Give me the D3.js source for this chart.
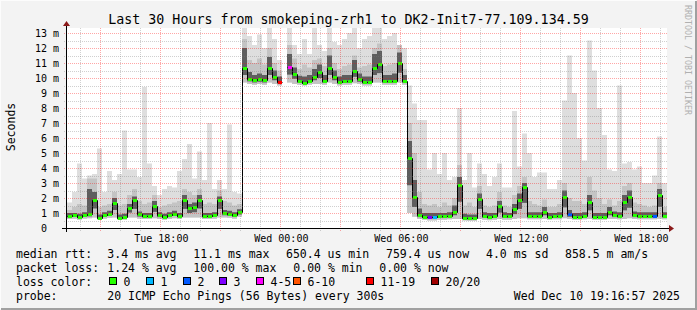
<!DOCTYPE html>
<html><head><meta charset="utf-8">
<script src="https://cdn.jsdelivr.net/npm/d3@7"></script>
<style>
body{margin:0;background:#f3f3f3;overflow:hidden}
svg text{font-family:"DejaVu Sans Mono",monospace;white-space:pre}
</style>
</head><body><svg id="c" width="697" height="310"></svg>
<script>
// ---------------- data ----------------
const titleText = "Last 30 Hours from smokeping-zrh1 to DK2-Init7-77.109.134.59";
const startTime = "2025-12-09T13:16:57Z";
const endTime   = "2025-12-10T19:16:57Z";
const binMinutes = 15;

// median rtt per 15-minute bin (ms); null = no data (100% loss)
const median = [
 0.8,0.85,0.75,0.85,0.9,1.9,0.7,0.85,0.95,1.7,
 0.7,0.75,1.35,1.85,0.9,0.8,0.8,1.5,0.85,0.75,
 0.85,0.95,0.8,1.85,1.3,1.4,1.9,0.8,0.8,0.85,
 1.85,1.0,0.95,0.85,1.05,10.7,9.95,9.85,9.9,9.85,
 10.7,10.1,9.75,null,10.75,10.3,9.8,9.7,9.8,10.1,
 10.4,9.8,10.7,10.1,9.75,9.8,9.8,10.5,9.9,9.75,
 9.75,10.7,10.95,9.8,9.8,9.8,11.0,9.8,4.7,2.05,
 0.85,0.75,0.75,0.75,0.8,0.78,0.82,1.1,2.9,0.7,
 0.65,0.65,1.95,0.8,0.75,0.78,1.45,0.8,0.78,1.25,
 1.9,2.7,0.8,0.8,0.8,1.1,0.75,0.8,0.8,2.1,
 0.9,0.75,0.75,0.8,1.75,0.75,0.75,0.75,1.1,0.85,
 0.8,1.75,2.05,0.85,0.8,0.8,0.8,0.8,2.2,0.8
];
const smokeMin = [
 0.6,0.62,0.55,0.62,0.65,0.7,0.55,0.62,0.68,0.7,
 0.55,0.55,0.7,0.7,0.62,0.6,0.6,0.65,0.6,0.55,
 0.6,0.65,0.6,0.7,0.7,0.7,0.7,0.6,0.6,0.62,
 0.7,0.7,0.68,0.62,0.75,9.7,9.6,9.55,9.6,9.55,
 9.7,9.6,9.5,null,9.7,9.6,9.55,9.5,9.55,9.6,
 9.6,9.55,9.7,9.6,9.5,9.55,9.55,9.65,9.6,9.5,
 9.5,9.7,9.7,9.55,9.55,9.55,9.7,9.55,1.0,0.75,
 0.6,0.55,0.5,0.5,0.55,0.55,0.58,0.6,0.6,0.5,
 0.48,0.48,0.6,0.55,0.52,0.55,0.6,0.55,0.55,0.6,
 0.65,0.65,0.58,0.58,0.58,0.6,0.55,0.58,0.58,0.65,
 0.6,0.55,0.55,0.58,0.6,0.55,0.55,0.55,0.6,0.6,
 0.58,0.6,0.65,0.6,0.58,0.58,0.58,0.58,0.62,0.58
];
const smokeP75 = [
 1.0,1.0,0.95,1.05,2.6,2.4,0.9,1.05,1.15,2.0,
 0.9,0.95,1.6,2.1,1.1,1.0,1.0,1.8,1.05,0.95,
 1.05,1.15,1.0,2.2,1.6,1.7,2.2,1.0,1.0,1.05,
 2.1,1.2,1.15,1.05,1.25,12.0,10.4,10.2,10.3,10.2,
 11.4,10.5,10.1,null,11.6,10.7,10.15,10.1,10.2,10.6,
 10.9,10.2,11.5,10.5,10.1,10.2,10.2,11.2,10.3,10.1,
 10.1,11.6,11.8,10.2,10.2,10.3,11.7,10.2,5.8,3.2,
 1.3,1.0,1.0,1.0,1.0,1.0,1.05,1.5,3.4,0.95,
 0.9,0.9,2.3,1.05,1.0,1.0,1.8,1.05,1.0,1.6,
 2.3,3.0,1.05,1.05,1.05,1.4,1.0,1.0,1.05,2.5,
 1.2,1.0,1.0,1.05,2.2,1.0,1.0,1.0,1.4,1.1,
 1.05,2.2,2.5,1.1,1.05,1.05,1.05,1.05,2.6,1.05
];
const smokeP90 = [
 1.2,1.4,1.6,1.5,3.3,3.3,1.4,1.5,1.6,2.4,
 1.5,1.6,2.2,2.6,1.8,1.6,1.7,2.2,1.4,1.5,
 1.6,1.7,1.8,2.6,2.4,2.2,2.6,1.6,1.7,1.6,
 2.5,1.8,1.7,1.5,1.6,12.6,11.2,11.0,11.3,10.9,
 12.0,11.0,10.5,null,12.2,11.3,10.6,10.9,10.7,11.2,
 11.3,10.8,12.0,11.0,10.6,10.8,10.9,11.5,10.7,10.8,
 10.9,12.0,12.3,10.8,10.9,11.0,12.2,10.6,7.0,5.0,
 2.4,1.6,1.5,1.6,1.4,1.7,1.5,2.0,4.2,1.5,
 1.7,1.4,2.8,1.5,1.4,1.5,2.4,1.5,1.4,2.2,
 2.8,3.4,1.8,1.6,1.5,1.9,1.4,1.4,1.6,3.0,
 2.0,1.8,1.8,1.6,3.4,2.5,2.0,1.6,1.9,1.5,
 1.8,2.8,3.0,1.7,1.6,1.5,1.4,1.5,3.0,1.4
];
const smokeMax = [
 1.7,2.4,4.3,3.3,3.5,3.6,5.3,2.4,3.8,3.2,
 3.6,6.5,3.9,3.9,3.4,9.4,4.3,2.8,2.2,2.6,
 2.8,2.7,3.8,4.6,5.6,3.3,5.1,3.2,7.0,2.6,
 3.2,2.6,6.9,2.4,2.3,13.4,12.8,12.2,12.9,12.0,
 13.4,12.6,11.2,null,13.4,12.2,11.6,12.6,11.6,13.4,
 12.2,11.8,13.4,12.4,12.2,12.6,13.0,13.4,12.0,12.6,
 12.8,13.4,13.4,12.6,12.8,13.0,12.2,12.0,9.5,8.3,
 7.2,7.2,3.9,5.0,3.6,5.0,3.2,3.4,8.0,3.2,
 5.0,2.7,4.3,3.6,2.8,3.4,4.3,2.7,2.7,7.8,
 4.1,6.3,5.0,3.4,3.7,3.7,2.6,2.6,3.2,8.5,
 11.5,9.0,6.0,4.5,12.5,10.5,8.0,6.2,3.9,3.8,
 9.5,4.3,4.4,3.9,4.1,3.0,3.0,3.5,6.1,3.0
];
// lost pings (of 20) per bin
const lossCount = [
 0,0,0,0,0,0,0,0,0,0,
 0,0,0,0,0,0,0,0,0,0,
 0,0,0,0,0,0,0,0,0,0,
 0,0,0,0,0,0,0,0,0,0,
 0,0,15,20,4,0,0,0,0,0,
 0,0,0,0,0,0,0,0,0,0,
 0,0,0,0,0,0,0,0,0,0,
 0,0,3,1,0,0,0,0,0,0,
 0,0,0,0,0,0,0,0,0,0,
 0,0,0,0,0,0,0,0,0,0,
 2,0,0,0,0,0,0,0,0,0,
 0,0,0,0,0,0,0,2,0,0
];

const yTicks = [0,1,2,3,4,5,6,7,8,9,10,11,12,13];
const yTickLabels = ["0  ","1 m","2 m","3 m","4 m","5 m","6 m","7 m","8 m","9 m","10 m","11 m","12 m","13 m"];
const xTickTimes = ["2025-12-09T18:00:00Z","2025-12-10T00:00:00Z","2025-12-10T06:00:00Z","2025-12-10T12:00:00Z","2025-12-10T18:00:00Z"];
const xTickLabels = ["Tue 18:00","Wed 00:00","Wed 06:00","Wed 12:00","Wed 18:00"];

const lossLegendLabels = ["0","1","2","3","4-5","6-10","11-19","20/20"];
const lossLegendMax    = [0,1,2,3,5,10,19,20];
const lossLegendColors = ["#26ff00","#00b8ff","#0059ff","#7e00ff","#ff00ff","#ff5500","#ff0000","#a00000"];

const rttStats  = ["3.4 ms avg","11.1 ms max","650.4 us min","759.4 us now","4.0 ms sd","858.5 m am/s"];
const lossStats = ["1.24 % avg","100.00 % max","0.00 % min","0.00 % now"];
const probeText = "20 ICMP Echo Pings (56 Bytes) every 300s";
const stampText = "Wed Dec 10 19:16:57 2025";

// ---------------- layout ----------------
const X0 = 67, PW = 600, Y0 = 28, PH = 200;
const svg = d3.select("#c");

const t0 = new Date(startTime), t1 = new Date(endTime);
const x = d3.scaleUtc().domain([t0, t1]).range([X0, X0 + PW]);
const y = d3.scaleLinear().domain([0, PH / 15]).range([Y0 + PH, Y0]);
const binMs = binMinutes * 60000;
const tb = i => new Date(+t0 + i * binMs);
const n = median.length;

// canvas & frame
svg.append("rect").attr("width", 697).attr("height", 310).attr("fill", "#f3f3f3");
svg.append("rect").attr("x", X0).attr("y", Y0).attr("width", PW).attr("height", PH).attr("fill", "#fff");
svg.append("path").attr("d", "M0,309V0H696").attr("stroke", "#fcfcfc").attr("stroke-width", 2).attr("fill", "none");
svg.append("path").attr("d", "M1,309H696V1").attr("stroke", "#a0a0a0").attr("stroke-width", 2).attr("fill", "none");

svg.append("defs").append("clipPath").attr("id", "clip")
  .append("rect").attr("x", X0).attr("y", Y0).attr("width", PW).attr("height", PH);
const g = svg.append("g").attr("clip-path", "url(#clip)");

const valid = d3.range(n).filter(i => median[i] != null);
function band(lo, hi, color) {
  g.append("g").selectAll("rect").data(valid).enter().append("rect")
    .attr("x", i => x(tb(i))).attr("width", i => x(tb(i + 1)) - x(tb(i)))
    .attr("y", i => y(hi(i))).attr("height", i => Math.max(0, y(lo(i)) - y(hi(i))))
    .attr("fill", color);
}
band(i => smokeMin[i], i => smokeMax[i], "#dedede");
band(i => smokeMin[i], i => smokeP90[i], "#c4c4c4");
band(i => (smokeMin[i] + median[i]) / 2, i => smokeP75[i], "#5e5e5e");

// grid (on top of smoke, like rrdtool)
const gridG = svg.append("g");
const hours = d3.utcHour.range(d3.utcHour.ceil(t0), t1);
hours.forEach(h => {
  const major = h.getUTCHours() % 3 === 0;
  const xx = Math.round(x(h)) - 0.5;
  gridG.append("line").attr("x1", xx).attr("x2", xx).attr("y1", Y0).attr("y2", Y0 + PH + 3)
    .attr("stroke", major ? "rgba(255,0,0,0.35)" : "rgba(120,120,120,0.35)")
    .attr("stroke-dasharray", "1,1");
});
d3.range(1, 27).forEach(k => {
  const v = k / 2;
  const major = k % 2 === 0;
  const yy = Math.round(y(v)) + 0.5;
  gridG.append("line").attr("x1", X0 - 3).attr("x2", X0 + PW).attr("y1", yy).attr("y2", yy)
    .attr("stroke", major ? "rgba(255,0,0,0.35)" : "rgba(120,120,120,0.35)")
    .attr("stroke-dasharray", "1,1");
});

// median line (black) + loss-coloured median marks
const pts = [];
for (let i = 0; i < n; i++) {
  if (median[i] == null) { pts.push(null); continue; }
  const yy = Math.round(y(median[i])) + 0.5;
  pts.push([x(tb(i)) + 0.5, yy]); pts.push([x(tb(i + 1)) + 0.5, yy]);
}
g.append("path").attr("d", d3.line().defined(d => d != null).x(d => d[0]).y(d => d[1])(pts))
  .attr("fill", "none").attr("stroke", "#000").attr("stroke-width", 1);
const lossColor = c => lossLegendColors[lossLegendMax.findIndex(m => c <= m)];
g.append("g").selectAll("rect").data(valid).enter().append("rect")
  .attr("x", i => x(tb(i)) + 1).attr("width", i => x(tb(i + 1)) - x(tb(i)) - 1)
  .attr("y", i => Math.round(y(median[i])) - 1).attr("height", 3)
  .attr("fill", i => lossColor(lossCount[i]));

// axes
svg.append("line").attr("x1", X0 - 5).attr("x2", X0 + PW + 4).attr("y1", Y0 + PH + 0.5).attr("y2", Y0 + PH + 0.5).attr("stroke", "#000");
svg.append("line").attr("x1", X0 - 0.5).attr("x2", X0 - 0.5).attr("y1", Y0 + PH + 4).attr("y2", Y0 - 4).attr("stroke", "#000");
svg.append("path").attr("d", `M${X0 + PW + 2},${Y0 + PH - 3}L${X0 + PW + 7},${Y0 + PH + 0.5}L${X0 + PW + 2},${Y0 + PH + 4}Z`).attr("fill", "#8b1a1a");
svg.append("path").attr("d", `M${X0 - 4},${Y0 - 2}L${X0 - 0.5},${Y0 - 7}L${X0 + 3},${Y0 - 2}Z`).attr("fill", "#8b1a1a");

// tick labels
svg.append("g").selectAll("text").data(yTicks).enter().append("text")
  .attr("x", 59).attr("y", v => y(v) + 3.5).attr("text-anchor", "end")
  .attr("font-size", "10px").attr("fill", "#000").text((v, i) => yTickLabels[i]);
svg.append("g").selectAll("text").data(xTickTimes).enter().append("text")
  .attr("x", d => x(new Date(d))).attr("y", 241.5).attr("text-anchor", "middle")
  .attr("font-size", "10px").attr("fill", "#000").text((d, i) => xTickLabels[i]);

// title, axis title, watermark
svg.append("text").attr("x", 348.5).attr("y", 24).attr("text-anchor", "middle")
  .attr("font-size", "13.3px").attr("fill", "#000").text(titleText);
svg.append("text").attr("transform", "translate(14.5,127) rotate(-90)").attr("text-anchor", "middle")
  .attr("font-size", "11.5px").attr("fill", "#000").text("Seconds");
svg.append("text").attr("transform", "translate(685,5) rotate(90)").attr("text-anchor", "start")
  .attr("font-size", "8.3px").attr("fill", "#b0b0b0").text("RRDTOOL / TOBI OETIKER");

// legend
const lrow = [257.5, 271.5, 285.5, 299.5];
const leg = svg.append("g").attr("font-size", "11.5px").attr("fill", "#000");
leg.append("text").attr("x", 16).attr("y", lrow[0]).text("median rtt:");
const rttX = [107.3, 193.3, 286, 386, 486, 565];
rttStats.forEach((s, i) => leg.append("text").attr("x", rttX[i]).attr("y", lrow[0]).text(s));
leg.append("text").attr("x", 16).attr("y", lrow[1]).text("packet loss:");
const lossX = [107.3, 193.3, 293.3, 379.3];
lossStats.forEach((s, i) => leg.append("text").attr("x", lossX[i]).attr("y", lrow[1]).text(s));
leg.append("text").attr("x", 16).attr("y", lrow[2]).text("loss color:");
const boxX = [108.7, 145.7, 182.7, 219.3, 256, 293.3, 365.7, 430.7];
lossLegendLabels.forEach((s, i) => {
  const bx = Math.round(boxX[i]);
  leg.append("rect").attr("x", bx + 0.5).attr("y", 277.5).attr("width", 7).attr("height", 7)
    .attr("fill", lossLegendColors[i]).attr("stroke", "#000");
  leg.append("text").attr("x", bx + 14.5).attr("y", lrow[2]).text(s);
});
leg.append("text").attr("x", 16).attr("y", lrow[3]).text("probe:");
leg.append("text").attr("x", 107.3).attr("y", lrow[3]).text(probeText);
leg.append("text").attr("x", 680).attr("y", lrow[3]).attr("text-anchor", "end").text(stampText);
</script>
</body></html>
